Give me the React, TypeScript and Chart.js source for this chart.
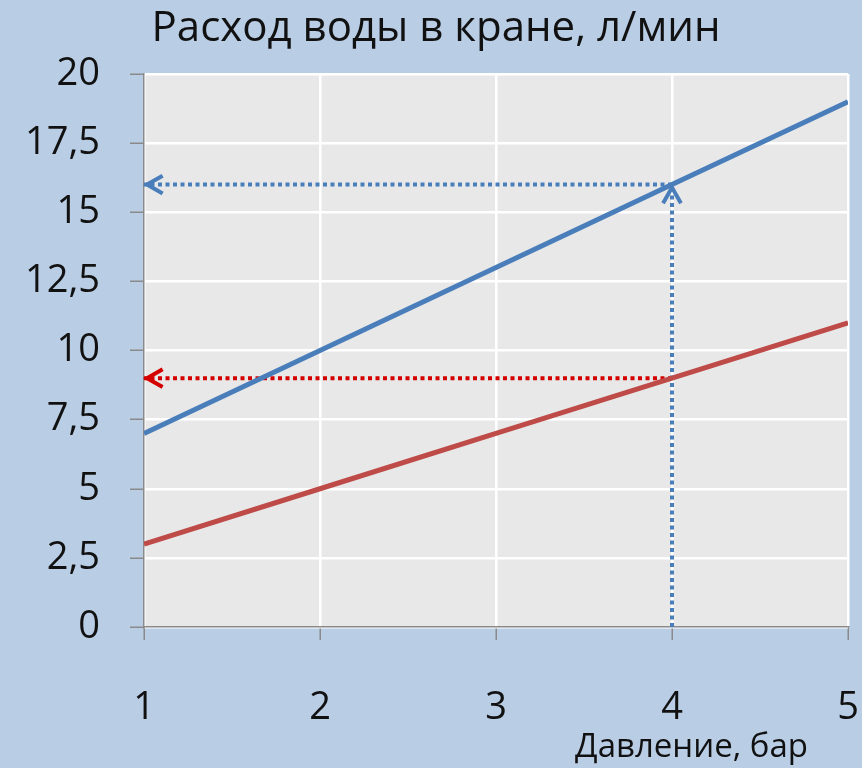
import { useEffect, useRef } from 'react';
import { Chart, registerables } from 'chart.js';

Chart.register(...registerables);

// ---- data ----
const pressure = [1, 2, 3, 4, 5];
const flowBlue = [7, 10, 13, 16, 19];
const flowRed = [3, 5, 7, 9, 11];
const readPressure = 4;
const readBlue = 16;
const readRed = 9;
const xMin = 1;
const xMax = 5;
const yMin = 0;
const yMax = 20;
const yStep = 2.5;
const titleText = 'Расход воды в кране, л/мин';
const xTitleText = 'Давление, бар';

const FONT = '"Open Sans", "DejaVu Sans", sans-serif';
const BG = '#b9cde5';
const PLOT_BG = '#e8e8e8';
const BLUE = '#4a7ebb';
const RED = '#be4b48';
const RED_DOT = '#d40000';
const AXIS_GRAY = '#8a8a8a';

const bgPlugin = {
  id: 'bgPlugin',
  beforeDraw(chart: any) {
    const { ctx, chartArea, width, height } = chart;
    ctx.save();
    ctx.fillStyle = BG;
    ctx.fillRect(0, 0, width, height);
    ctx.fillStyle = PLOT_BG;
    ctx.fillRect(chartArea.left, chartArea.top, chartArea.right - chartArea.left, chartArea.bottom - chartArea.top);
    ctx.restore();
  },
  afterDraw(chart: any) {
    const { ctx, chartArea } = chart;
    ctx.save();
    ctx.fillStyle = '#111';
    ctx.font = `33px ${FONT}`;
    ctx.textAlign = 'right';
    ctx.textBaseline = 'alphabetic';
    ctx.fillText(xTitleText, chartArea.right - 40, 757);
    ctx.restore();
  },
};

const arrowPlugin = {
  id: 'arrowPlugin',
  afterDatasetsDraw(chart: any) {
    const { ctx } = chart;
    chart.data.datasets.forEach((ds: any, i: number) => {
      if (!ds.arrow) return;
      const pts = chart.getDatasetMeta(i).data;
      if (pts.length < 2) return;
      const a = pts[pts.length - 2];
      const b = pts[pts.length - 1];
      const ang = Math.atan2(b.y - a.y, b.x - a.x);
      const len = 18;
      const spread = 0.52;
      const tipX = b.x - Math.cos(ang) * 3;
      const tipY = b.y - Math.sin(ang) * 3;
      ctx.save();
      ctx.strokeStyle = ds.borderColor;
      ctx.lineWidth = 4;
      ctx.lineCap = 'butt';
      ctx.lineJoin = 'miter';
      ctx.beginPath();
      ctx.moveTo(tipX - len * Math.cos(ang - spread), tipY - len * Math.sin(ang - spread));
      ctx.lineTo(tipX, tipY);
      ctx.lineTo(tipX - len * Math.cos(ang + spread), tipY - len * Math.sin(ang + spread));
      ctx.stroke();
      ctx.restore();
    });
  },
};

export default function App() {
  const ref = useRef<HTMLCanvasElement | null>(null);

  useEffect(() => {
    document.body.style.margin = '0';
    if (!ref.current) return;
    const guide = (pts: { x: number; y: number }[], color: string) => ({
      data: pts,
      borderColor: color,
      borderWidth: 4,
      borderDash: [4, 3.5],
      borderCapStyle: 'butt',
      pointRadius: 0,
      tension: 0,
      arrow: true,
    });
    const chart = new Chart(ref.current, {
      type: 'line',
      data: {
        datasets: [
          {
            data: pressure.map((x, i) => ({ x, y: flowBlue[i] })),
            borderColor: BLUE,
            borderWidth: 5,
            pointRadius: 0,
            tension: 0,
          },
          {
            data: pressure.map((x, i) => ({ x, y: flowRed[i] })),
            borderColor: RED,
            borderWidth: 5,
            pointRadius: 0,
            tension: 0,
          },
          guide([{ x: readPressure, y: readBlue }, { x: xMin, y: readBlue }], BLUE) as any,
          guide([{ x: readPressure, y: yMin }, { x: readPressure, y: readBlue }], BLUE) as any,
          guide([{ x: readPressure, y: readRed }, { x: xMin, y: readRed }], RED_DOT) as any,
        ],
      },
      options: {
        responsive: false,
        animation: false,
        devicePixelRatio: 1,
        layout: { padding: { left: 24, right: 14, top: 0, bottom: 0 } },
        plugins: {
          legend: { display: false },
          tooltip: { enabled: false },
          title: {
            display: true,
            text: titleText,
            color: '#111',
            font: { family: FONT, size: 42, weight: 'normal' },
            padding: { top: 4, bottom: 19.6 },
          },
        },
        scales: {
          x: {
            type: 'linear',
            min: xMin,
            max: xMax,
            ticks: {
              stepSize: 1,
              color: '#111',
              font: { family: FONT, size: 38 },
              padding: 45,
            },
            grid: {
              color: '#ffffff',
              lineWidth: 2.5,
              tickColor: AXIS_GRAY,
              tickLength: 13,
              tickWidth: 1.5,
            },
            border: { color: AXIS_GRAY, width: 1.5 },
            afterFit(scale: any) {
              scale.height = 141;
              scale.paddingLeft = 0;
              scale.paddingRight = 0;
            },
          },
          y: {
            type: 'linear',
            min: yMin,
            max: yMax,
            ticks: {
              stepSize: yStep,
              color: '#111',
              font: { family: FONT, size: 38 },
              padding: 30,
              callback: (v: any) => String(v).replace('.', ','),
            },
            grid: {
              color: '#ffffff',
              lineWidth: 2.5,
              tickColor: AXIS_GRAY,
              tickLength: 14,
              tickWidth: 1.5,
            },
            border: { color: AXIS_GRAY, width: 1.5 },
            afterFit(scale: any) {
              scale.width = 120;
            },
          },
        },
      } as any,
      plugins: [bgPlugin, arrowPlugin],
    });
    return () => chart.destroy();
  }, []);

  return <canvas ref={ref} width={862} height={768} style={{ display: 'block' }} />;
}
